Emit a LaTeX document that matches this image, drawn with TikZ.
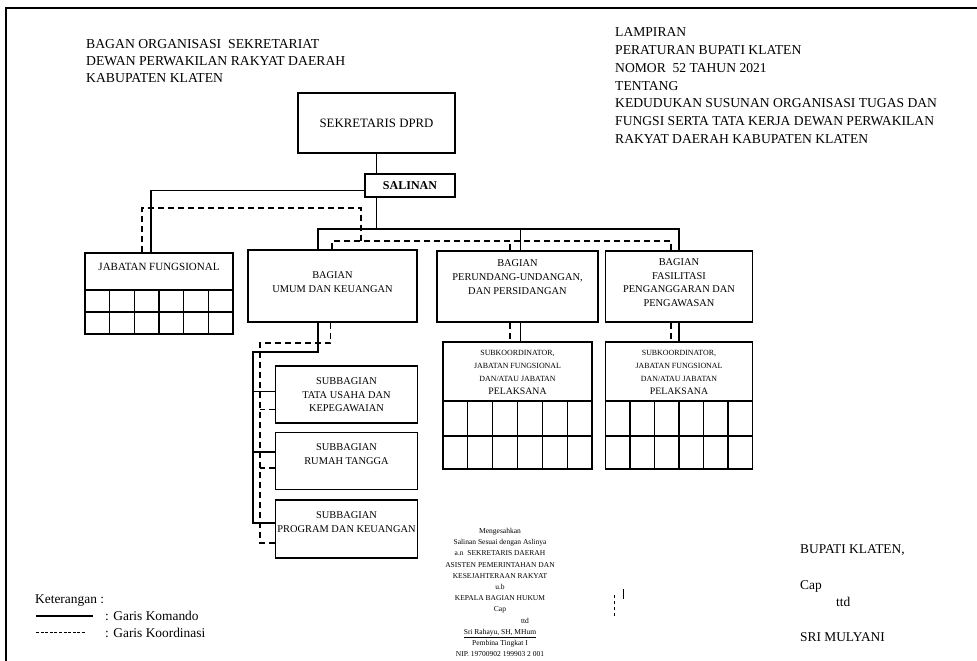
\documentclass[tikz,border=0pt]{standalone}
\usepackage{fontspec}
\setmainfont{Liberation Serif}
\usetikzlibrary{positioning}
\begin{document}
\begin{tikzpicture}[x=1pt,y=-1pt,
  box/.style={draw,line width=1.3pt,inner sep=0pt,font=\fontsize{10.2}{13.5}\selectfont,align=center},
  boxtxt/.style={inner sep=0pt,font=\fontsize{10.4}{13.6}\selectfont,align=center},
  kecil/.style={inner sep=0pt,font=\fontsize{7.9}{13}\selectfont,align=center},
  kop/.style={inner sep=0pt,font=\fontsize{13.6}{17.8}\selectfont,align=left,anchor=north west},
  ket/.style={inner sep=0pt,font=\fontsize{13.4}{16}\selectfont,anchor=base west},
  komando/.style={line width=1.3pt},
  koordinasi/.style={line width=1.3pt,dash pattern=on 6pt off 4pt},
  sel/.style={line width=1.2pt}]
\useasboundingbox (0,0) rectangle (977,661);

% Frame
\draw[line width=1.8pt] (6,661) -- (6,8) -- (977,8);

% Headings
\node[kop,font=\fontsize{13.7}{17}\selectfont] (judul) at (86,39.5)
  {BAGAN ORGANISASI\ \ SEKRETARIAT\\DEWAN PERWAKILAN RAKYAT DAERAH\\KABUPATEN KLATEN};
\node[kop] (lampiran) at (615,27.5)
  {LAMPIRAN\\PERATURAN BUPATI KLATEN\\NOMOR\ \ 52 TAHUN 2021\\TENTANG\\
   KEDUDUKAN SUSUNAN ORGANISASI TUGAS DAN\\FUNGSI SERTA TATA KERJA DEWAN PERWAKILAN\\
   RAKYAT DAERAH KABUPATEN KLATEN};

% Top boxes
\node[box,minimum width=157pt,minimum height=60pt,font=\fontsize{12.8}{14}\selectfont] (sek) at (376.5,123) {SEKRETARIS DPRD};
\node[box,minimum width=90pt,minimum height=23pt,font=\fontsize{12}{14}\selectfont\bfseries] (sal) at (410,185.5) {SALINAN};

% Jabatan fungsional
\node[box,minimum width=148pt,minimum height=81pt] (jf) at (159,293.5) {};
\node[boxtxt,below=10.5pt of jf.north,font=\fontsize{11}{13.6}\selectfont] (jft) {JABATAN FUNGSIONAL};
\draw[sel] (85,290) -- (233,290) (85,312) -- (233,312);
\foreach \k in {1,...,5}
  \draw[sel] (85+\k*24.67,290) -- (85+\k*24.67,334);

% Bagian
\node[box,minimum width=169pt,minimum height=72pt] (umum) at (332.5,286) {};
\node[boxtxt,below=22.5pt of umum.north] (umumt) {BAGIAN\\UMUM DAN KEUANGAN};
\node[box,minimum width=161pt,minimum height=71pt] (pud) at (517.5,286.5) {};
\node[boxtxt,below=9.5pt of pud.north] (pudt) {BAGIAN\\PERUNDANG-UNDANGAN,\\DAN PERSIDANGAN};
\node[box,minimum width=147pt,minimum height=71pt] (fas) at (679,286.5) {};
\node[boxtxt,below=8pt of fas.north] (fast) {BAGIAN\\FASILITASI\\PENGANGGARAN DAN\\PENGAWASAN};

% Subkoordinator
\node[box,minimum width=149pt,minimum height=127pt] (sk1) at (517.5,405.5) {};
\node[kecil,below=8.5pt of sk1.north] (sk1t) {SUBKOORDINATOR,\\JABATAN FUNGSIONAL\\DAN/ATAU JABATAN\\{\fontsize{9.8}{13}\selectfont PELAKSANA}};
\draw[sel] (443,401) -- (592,401) (443,436) -- (592,436);
\foreach \k in {1,...,5}
  \draw[sel] (443+\k*24.83,401) -- (443+\k*24.83,469);
\node[box,minimum width=147pt,minimum height=127pt] (sk2) at (679,405.5) {};
\node[kecil,below=8.5pt of sk2.north] (sk2t) {SUBKOORDINATOR,\\JABATAN FUNGSIONAL\\DAN/ATAU JABATAN\\{\fontsize{9.8}{13}\selectfont PELAKSANA}};
\draw[sel] (605.5,401) -- (752.5,401) (605.5,436) -- (752.5,436);
\foreach \k in {1,...,5}
  \draw[sel] (605.5+\k*24.5,401) -- (605.5+\k*24.5,469);

% Subbagian
\node[box,minimum width=142pt,minimum height=57pt] (sb1) at (346.5,394.5) {};
\node[boxtxt,below=12pt of sb1.north] (sb1t) {SUBBAGIAN\\TATA USAHA DAN\\KEPEGAWAIAN};
\node[box,minimum width=142pt,minimum height=57pt] (sb2) at (346.5,461) {};
\node[boxtxt,below=12pt of sb2.north] (sb2t) {SUBBAGIAN\\RUMAH TANGGA};
\node[box,minimum width=142pt,minimum height=58pt] (sb3) at (346.5,529) {};
\node[boxtxt,below=12pt of sb3.north] (sb3t) {SUBBAGIAN\\PROGRAM DAN KEUANGAN};

% Garis komando
\coordinate (bus) at (376.5,229);
\coordinate (kiri) at (253,352);
\draw[komando] (sek.south) -- (sek.south |- sal.north);
\draw[komando] ([yshift=-5pt]sal.west) -| ([xshift=-8pt]jf.north);
\draw[komando] (sek.south |- sal.south) -- (bus);
\draw[komando] ([xshift=-14.5pt]umum.north) |- (bus) -| (fas.north);
\draw[komando] ([xshift=3pt]pud.north) -- ([xshift=3pt]pud.north |- bus);
\draw[komando] ([xshift=3pt]pud.south) -- ([xshift=3pt]pud.south |- sk1.north);
\draw[komando] (fas.south) -- (sk2.north);
\draw[komando] ([xshift=-14.5pt]umum.south) |- (kiri) |- ([yshift=6pt]sb3.west);
\draw[komando] ([yshift=3pt]sb1.west) -- ++(-22,0);
\draw[komando] ([yshift=9pt]sb2.west) -- ++(-22,0);

% Garis koordinasi
\coordinate (atas) at (361,208);
\coordinate (dbus) at (361,241);
\coordinate (kiri2) at (260,343);
\draw[koordinasi] ([xshift=-17pt]jf.north) |- (atas) -- (dbus);
\draw[koordinasi] ([xshift=-0.5pt]umum.north) |- (dbus) -| ([xshift=-8pt]fas.north);
\draw[koordinasi] ([xshift=-7.5pt]pud.north) -- ([xshift=-7.5pt]pud.north |- dbus);
\draw[koordinasi] ([xshift=-7.5pt]pud.south) -- ([xshift=-7.5pt]pud.south |- sk1.north);
\draw[koordinasi] ([xshift=-8pt]fas.south) -- ([xshift=-8pt]sk2.north);
\draw[koordinasi] ([xshift=-2pt]umum.south) |- (kiri2) |- ([yshift=-14pt]sb3.west);
\draw[koordinasi] ([yshift=-15pt]sb1.west) -- ++(-15,0);
\draw[koordinasi] ([yshift=-7pt]sb2.west) -- ++(-15,0);

% Stray marks
\draw[line width=1pt] (623,589) -- (623,599);
\draw[line width=1pt,dash pattern=on 3pt off 3pt] (614,595) -- (614,618);

% Pengesahan
\node[anchor=north,inner sep=0pt,align=center,font=\fontsize{7.5}{11.2}\selectfont] (sah) at (500,528)
  {Mengesahkan\\Salinan Sesuai dengan Aslinya\\a.n\ \ SEKRETARIS DAERAH\\ASISTEN PEMERINTAHAN DAN\\
   KESEJAHTERAAN RAKYAT\\u.b\\KEPALA BAGIAN HUKUM\\Cap\\\hspace*{50pt}ttd\\
   \underline{Sri Rahayu, SH, MHum}\\Pembina Tingkat I\\NIP. 19700902 199903 2 001};

% Bupati
\node[ket] (bupati) at (800,553.5) {BUPATI KLATEN,};
\node[ket] (cap) at (800,589.5) {Cap};
\node[ket] (ttd) at (836,606) {ttd};
\node[ket] (nama) at (800,641.5) {SRI MULYANI};

% Keterangan
\node[ket] (keterangan) at (35,603) {Keterangan :};
\node[ket] (komando) at (105,620) {: Garis Komando};
\node[ket] (koordinasi) at (105,637) {: Garis Koordinasi};
\draw[line width=1.2pt] (36,616) -- (93,616);
\draw[line width=0.8pt,dash pattern=on 3pt off 1.6pt] (36,632.5) -- (86,632.5);
\end{tikzpicture}
\end{document}
